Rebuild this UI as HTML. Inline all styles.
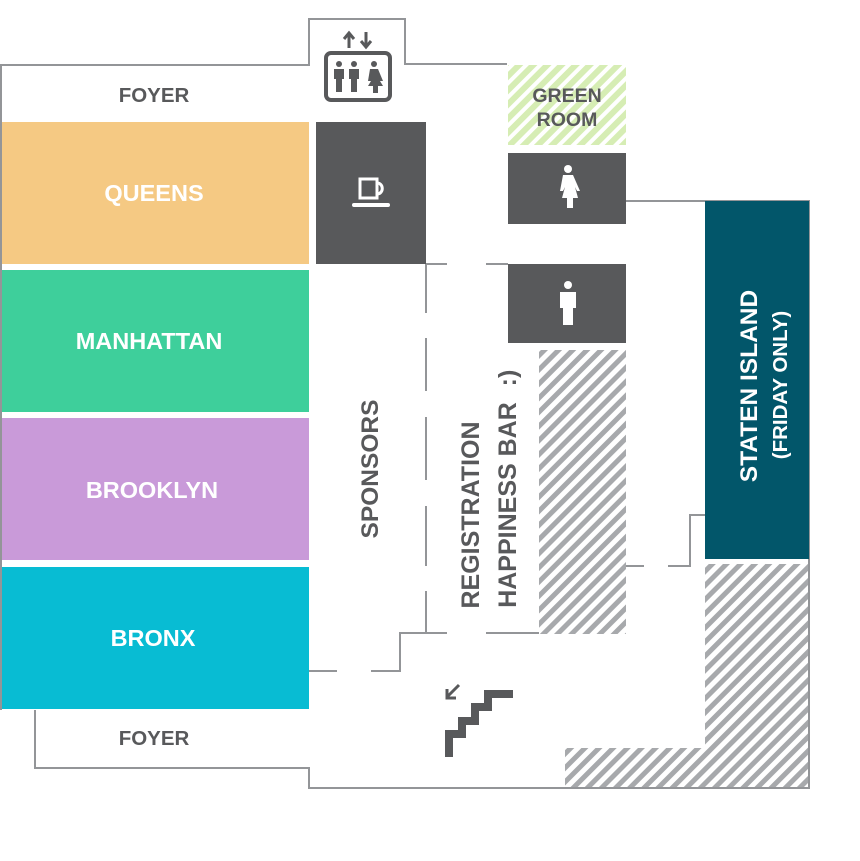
<!DOCTYPE html>
<html><head><meta charset="utf-8"><style>
html,body{margin:0;padding:0;background:#fff;}
svg{display:block;}
text{font-family:"Liberation Sans",Arial,sans-serif;font-weight:bold;fill:#58595b;}
</style></head><body>
<svg width="860" height="861" viewBox="0 0 860 861" xmlns="http://www.w3.org/2000/svg">
<defs>
<pattern id="hg" patternUnits="userSpaceOnUse" width="10" height="10" patternTransform="rotate(45)">
<rect width="10" height="10" fill="#fff"/><rect width="5" height="10" fill="#a7a9ac"/></pattern>
<pattern id="hl" patternUnits="userSpaceOnUse" width="10" height="10" patternTransform="rotate(45)">
<rect width="10" height="10" fill="#fff"/><rect width="6" height="10" fill="#d6edb4"/></pattern>
</defs>
<g fill="none" stroke="#939598" stroke-width="2">
<polyline points="1,710 1,65 309,65 309,19 405,19 405,64 507,64"/>
<polyline points="35,710 35,768 309,768 309,788 809,788 809,201 626,201"/>
<line x1="426" y1="264" x2="426" y2="313"/><line x1="426" y1="338" x2="426" y2="391"/>
<line x1="426" y1="417" x2="426" y2="480"/><line x1="426" y1="506" x2="426" y2="566"/>
<line x1="426" y1="591" x2="426" y2="633"/>
<line x1="426" y1="264" x2="447" y2="264"/><line x1="486" y1="264" x2="508" y2="264"/>
<polyline points="447,633 400,633 400,671 371,671"/><line x1="486" y1="633" x2="539" y2="633"/>
<line x1="309" y1="671" x2="337" y2="671"/>
<line x1="626" y1="566" x2="644" y2="566"/><polyline points="668,566 690,566 690,515 705,515"/>
</g>
<rect x="2" y="122" width="307" height="142" fill="#f5c983"/>
<rect x="2" y="270" width="307" height="142" fill="#3ecf9b"/>
<rect x="2" y="418" width="307" height="142" fill="#c99ad9"/>
<rect x="2" y="567" width="307" height="142" fill="#08bcd3"/>
<rect x="316" y="122" width="110" height="142" fill="#58595b"/>
<rect x="508" y="65" width="118" height="80" fill="url(#hl)"/>
<rect x="508" y="153" width="118" height="71" fill="#58595b"/>
<rect x="508" y="264" width="118" height="79" fill="#58595b"/>
<rect x="539" y="350" width="87" height="284" fill="url(#hg)"/>
<rect x="705" y="201" width="104" height="358" fill="#02566a"/>
<path d="M705,564 H808 V787 H565 V748 H705 Z" fill="url(#hg)"/>
<text x="154" y="102" font-size="20.5" text-anchor="middle">FOYER</text>
<text x="154" y="745" font-size="20.5" text-anchor="middle">FOYER</text>
<text x="154" y="201" font-size="23.5" text-anchor="middle" style="fill:#fff">QUEENS</text>
<text x="149" y="349" font-size="23.5" text-anchor="middle" style="fill:#fff">MANHATTAN</text>
<text x="152" y="498" font-size="23.5" text-anchor="middle" style="fill:#fff">BROOKLYN</text>
<text x="153" y="646" font-size="23.5" text-anchor="middle" style="fill:#fff">BRONX</text>
<text x="567" y="102" font-size="19.5" text-anchor="middle">GREEN</text>
<text x="567" y="126" font-size="19.5" text-anchor="middle">ROOM</text>
<text transform="translate(378,469) rotate(-90)" font-size="24.5" text-anchor="middle">SPONSORS</text>
<text transform="translate(479,515) rotate(-90)" font-size="25" text-anchor="middle">REGISTRATION</text>
<text transform="translate(516,505) rotate(-90)" font-size="25" text-anchor="middle">HAPPINESS BAR</text>
<text transform="translate(516,378) rotate(-90)" font-size="25" text-anchor="middle">:)</text>
<text transform="translate(757,386) rotate(-90)" font-size="24.5" text-anchor="middle" style="fill:#fff">STATEN ISLAND</text>
<text transform="translate(787,385) rotate(-90)" font-size="20.5" text-anchor="middle" style="fill:#fff">(FRIDAY ONLY)</text>
<g stroke="#58595b" fill="none" stroke-width="3">
<rect x="326" y="53" width="64" height="47" rx="5" stroke-width="4"/>
<path d="M349,48 V34 M344,39 L349,33 L354,39"/>
<path d="M366,32 V46 M361,41 L366,47 L371,41"/>
</g>
<g fill="#58595b">
<circle cx="339" cy="64" r="3"/><path d="M334,69 h10 v10 h-2 v13 h-6 v-13 h-2z"/>
<circle cx="354" cy="64" r="3"/><path d="M349,69 h10 v10 h-2 v13 h-6 v-13 h-2z"/>
<circle cx="374" cy="64" r="3"/><path d="M370,69 h8 l5,12 h-3 l3,5 h-5 v7 h-5 v-7 h-5 l3,-5 h-3z"/>
</g>
<g fill="none" stroke="#fff" stroke-width="3">
<path d="M360,179 v19 h17 v-19 z"/><path d="M377,183 c7,0 7,11 0,11"/>
</g>
<rect x="352" y="203" width="38" height="4" rx="2" fill="#fff"/>
<g fill="#fff">
<circle cx="568" cy="169" r="4"/>
<path d="M563,175 h10 l7,16 h-3 l-2,-4 l3,11 h-5 v10 h-6 v-10 h-5 l3,-11 l-2,4 h-3z"/>
<circle cx="568" cy="285" r="4"/>
<path d="M560,292 h16 v16 h-3 v17 h-10 v-17 h-3z"/>
</g>
<g fill="#58595b">
<path d="M445,757 V730 h13 v-13 h13 v-14 h13 v-13 h29 v8 h-21 v13 h-13 v14 h-13 v13 h-13 v19 z"/>
</g>
<path d="M459,685 L447,697 M447,689 V698 H456" stroke="#58595b" stroke-width="3" fill="none"/>
</svg>
</body></html>
